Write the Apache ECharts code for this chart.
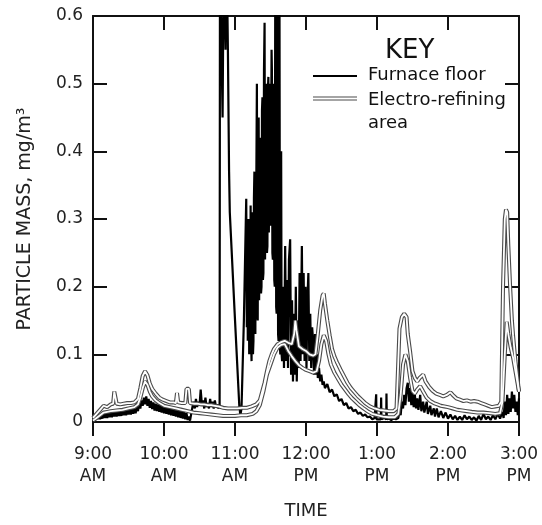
<!DOCTYPE html>
<html><head><meta charset="utf-8">
<script src="https://cdn.jsdelivr.net/npm/echarts@6/dist/echarts.min.js"></script>
<style>html,body{margin:0;padding:0;background:#fff}#c{width:542px;height:525px}</style>
</head><body><div id="c"></div>
<script>
// time in minutes after 9:00 AM, particle mass in mg/m3
const xTickLabels = ['9:00\nAM','10:00\nAM','11:00\nAM','12:00\nPM','1:00\nPM','2:00\nPM','3:00\nPM'];
const yTickLabels = ['0','0.1','0.2','0.3','0.4','0.5','0.6'];
const legendNames = ['Furnace floor', 'Electro-refining\narea'];

const furnaceFloor = [
[0,0.002],[1,0.008],[2,0.003],[3,0.010],[4,0.004],[5,0.011],[6,0.004],[7,0.012],[8,0.005],[9,0.013],
[10,0.006],[11,0.014],[12,0.006],[13,0.015],[14,0.007],[15,0.015],[16,0.007],[17,0.016],[18,0.008],[19,0.016],
[20,0.008],[21,0.017],[22,0.009],[23,0.017],[24,0.009],[25,0.018],[26,0.010],[27,0.018],[28,0.010],[29,0.019],
[30,0.011],[31,0.020],[32,0.011],[33,0.020],[34,0.012],[35,0.021],[36,0.013],[37,0.023],[38,0.016],[39,0.027],
[40,0.020],[41,0.032],[42,0.024],[43,0.036],[44,0.026],[45,0.038],[46,0.024],[47,0.034],[48,0.021],[49,0.031],
[50,0.019],[51,0.029],[52,0.017],[53,0.027],[54,0.016],[55,0.026],[56,0.015],[57,0.025],[58,0.014],[59,0.024],
[60,0.013],[61,0.023],[62,0.012],[63,0.022],[64,0.011],[65,0.021],[66,0.010],[67,0.020],[68,0.009],[69,0.019],
[70,0.008],[71,0.018],[72,0.007],[73,0.017],[74,0.006],[75,0.016],[76,0.005],[77,0.015],[78,0.004],[79,0.013],
[80,0.003],[81,0.008],[82,0.002],[83,0.004],[84,0.022],[85,0.030],[86,0.020],[87,0.034],[88,0.022],[89,0.030],
[90,0.024],[91,0.048],[92,0.026],[93,0.032],[94,0.020],[95,0.036],[96,0.022],[97,0.028],[98,0.020],[99,0.034],
[100,0.022],[101,0.030],[102,0.020],[103,0.032],[104,0.022],[105,0.026],[106,0.020],[107,0.024],
[107.3,0.70],[108.5,0.70],[109.5,0.45],[110.5,0.70],[111.5,0.70],[112,0.55],[112.5,0.70],[113.5,0.62],[114,0.55],
[115,0.37],[115.6,0.31],[119.6,0.165],[123.6,0.025],[124.5,0.010],[125.5,0.020],[127.5,0.15],[129.5,0.33],
[130,0.14],[130.4,0.30],[130.8,0.12],[131.2,0.26],[131.6,0.30],[132,0.10],[132.4,0.28],[132.8,0.11],[133.2,0.32],
[133.6,0.12],[134,0.09],[134.4,0.29],[134.8,0.31],[135.2,0.10],[135.6,0.12],[136,0.33],[136.4,0.37],[136.8,0.14],
[137.2,0.13],[137.6,0.36],[138,0.35],[138.5,0.50],[138.9,0.16],[139.2,0.15],[139.6,0.40],[140,0.45],[140.4,0.18],
[140.8,0.18],[141.2,0.40],[141.6,0.42],[142,0.19],[142.4,0.20],[142.8,0.46],[143.2,0.48],[143.6,0.21],[144,0.22],
[144.5,0.52],[145,0.59],[145.4,0.24],[145.8,0.24],[146.2,0.50],[146.6,0.47],[147,0.25],[147.4,0.26],[147.8,0.49],
[148.2,0.51],[148.6,0.28],[149,0.28],[149.4,0.47],[149.8,0.50],[150.2,0.29],[150.5,0.29],[150.9,0.55],[151.2,0.52],
[151.6,0.25],[152,0.24],[152.4,0.50],[152.8,0.45],[153.2,0.21],[153.6,0.20],[154,0.62],[154.4,0.65],[154.8,0.17],
[155.2,0.16],[155.6,0.64],[156,0.66],[156.4,0.13],[156.8,0.12],[157.2,0.60],[157.6,0.62],[158,0.11],[158.3,0.10],
[158.6,0.38],[159,0.40],[159.4,0.10],[159.8,0.09],
[160.6,0.20],[161.4,0.08],[162.4,0.26],[163.2,0.09],[164,0.21],[164.8,0.08],[165.6,0.24],
[166.6,0.27],[167.4,0.07],[168.2,0.18],[169,0.06],[169.8,0.16],[170.6,0.07],[171.4,0.20],[172.2,0.06],[173,0.15],
[173.8,0.08],[174.6,0.22],[175.4,0.09],[176.5,0.26],[177.3,0.10],[178,0.22],[178.8,0.09],[179.6,0.20],[180.4,0.08],
[181.2,0.18],[182,0.22],[182.8,0.09],[183.6,0.16],[184.4,0.08],[185.2,0.14],[186,0.12],[186.8,0.07],[187.6,0.13],
[188.4,0.07],[189.2,0.10],[190,0.065],[191,0.08],[192,0.06],[193,0.07],[194,0.055],[195,0.06],
[196,0.050],[198,0.056],[200,0.044],[202,0.048],[204,0.038],[206,0.041],[208,0.031],[210,0.034],[212,0.025],[214,0.028],
[216,0.020],[218,0.022],[220,0.016],[222,0.018],[224,0.012],[226,0.014],[228,0.009],[230,0.011],[232,0.007],[234,0.008],
[236,0.004],[238,0.006],[239,0.004],[239.3,0.041],[239.6,0.004],[241,0.006],[243.2,0.004],[243.5,0.036],[243.8,0.004],
[246,0.006],[247.8,0.004],[248,0.042],[248.3,0.004],[250,0.005],[252,0.003],[254,0.005],[256,0.004],[258,0.006],
[259,0.015],[260,0.010],[261,0.030],[262,0.020],[263,0.040],[264,0.025],[265,0.050],[266,0.058],[267,0.030],[268,0.050],
[269,0.025],[270,0.046],[271,0.022],[272,0.040],[273,0.020],[274,0.035],[275,0.018],[276.5,0.040],[277.5,0.016],[279,0.030],
[280,0.014],[282,0.030],[283,0.012],[285,0.024],[286,0.010],[288,0.020],[289,0.008],[290.5,0.020],[292,0.007],[294,0.016],
[296,0.006],[298,0.014],[300,0.005],[302,0.011],[304,0.004],[306,0.009],[308,0.003],[310,0.008],[312,0.003],[314,0.010],
[316,0.004],[318,0.008],[320,0.003],[322,0.007],[324,0.002],[326,0.009],[328,0.003],[330,0.012],[332,0.004],[334,0.008],
[336,0.003],[338,0.010],[340,0.004],[342,0.012],[344,0.005],[346,0.015],[347,0.006],[348,0.030],[349,0.010],[350,0.040],
[351,0.012],[352,0.035],[353,0.015],[354,0.045],[355,0.020],[356,0.040],[357,0.015],[358,0.030],[359,0.010],[360,0.035]
];

const electroUpper = [
[0,0.006],[3,0.012],[6,0.018],[9,0.024],[12,0.022],[15,0.026],[17,0.027],[18,0.045],[19,0.045],[20,0.027],
[23,0.026],[26,0.027],[29,0.028],[32,0.028],[35,0.029],[38,0.034],[40,0.050],[42,0.068],[44,0.075],[46,0.069],
[48,0.057],[50,0.049],[53,0.042],[56,0.036],[59,0.033],[62,0.031],[65,0.029],[68,0.029],[70,0.028],[71,0.043],
[72,0.029],[75,0.028],[78,0.028],[79,0.049],[81,0.049],[82,0.028],[85,0.027],[88,0.027],[91,0.026],[94,0.026],
[97,0.025],[100,0.025],[103,0.024],[106,0.023],[110,0.021],[114,0.020],[118,0.020],[122,0.020],[126,0.021],[130,0.021],
[134,0.023],[138,0.026],[141,0.032],[143,0.045],[145,0.058],[147,0.075],[149,0.090],[151,0.100],[153,0.108],[156,0.115],
[159,0.118],[162,0.120],[165,0.117],[168,0.115],[170,0.130],[171,0.150],[172,0.135],[174,0.112],[177,0.108],[180,0.105],
[183,0.100],[186,0.098],[188,0.100],[190,0.130],[192,0.165],[194,0.187],[195,0.190],[196,0.175],[198,0.150],[200,0.128],
[202,0.108],[204,0.097],[206,0.089],[209,0.078],[212,0.068],[215,0.058],[218,0.050],[221,0.044],[224,0.038],[227,0.033],
[230,0.028],[234,0.023],[238,0.020],[242,0.018],[246,0.017],[250,0.016],[254,0.016],[256.5,0.020],[258,0.090],[259,0.138],
[261,0.155],[263,0.160],[265,0.155],[266,0.130],[268,0.104],[270,0.075],[272,0.065],[274,0.060],[276,0.065],[279,0.070],
[281,0.060],[284,0.052],[287,0.046],[290,0.042],[293,0.040],[296,0.038],[299,0.040],[302,0.044],[304,0.040],[307,0.035],
[310,0.033],[313,0.031],[316,0.032],[319,0.030],[322,0.031],[325,0.030],[328,0.028],[331,0.026],[334,0.024],[337,0.022],
[340,0.023],[343,0.024],[345,0.030],[346.5,0.200],[348,0.300],[349,0.314],[350,0.310],[351,0.260],[352.5,0.200],[354,0.150],
[355,0.128],[357,0.090],[358,0.075],[360,0.045]
];

const electroLower = [
[0,0.002],[3,0.006],[6,0.010],[9,0.014],[12,0.015],[15,0.016],[20,0.017],[25,0.018],[30,0.020],[35,0.022],
[38,0.026],[40,0.036],[42,0.050],[44,0.060],[46,0.055],[48,0.045],[50,0.038],[53,0.032],[56,0.028],[60,0.024],
[65,0.022],[70,0.020],[75,0.018],[80,0.016],[85,0.014],[90,0.013],[95,0.012],[100,0.011],[105,0.010],[110,0.009],
[115,0.009],[120,0.009],[125,0.010],[130,0.010],[135,0.012],[138,0.016],[141,0.025],[144,0.045],[147,0.070],[150,0.085],
[153,0.100],[156,0.110],[159,0.114],[162,0.115],[165,0.105],[168,0.097],[171,0.090],[174,0.084],[177,0.080],[180,0.077],
[183,0.075],[186,0.073],[189,0.075],[191,0.090],[193,0.115],[195,0.128],[197,0.120],[199,0.100],[201,0.085],[204,0.073],
[207,0.064],[210,0.055],[213,0.048],[216,0.041],[219,0.035],[222,0.030],[225,0.025],[228,0.021],[232,0.016],[236,0.012],
[240,0.010],[245,0.008],[250,0.007],[255,0.007],[258,0.012],[260,0.040],[262,0.085],[264,0.100],[266,0.090],[268,0.065],
[270,0.046],[272,0.042],[274,0.048],[276.5,0.053],[279,0.045],[282,0.036],[285,0.031],[288,0.028],[291,0.026],[294,0.024],
[297,0.023],[300,0.022],[304,0.020],[308,0.018],[312,0.017],[316,0.016],[320,0.015],[325,0.014],[330,0.014],[335,0.013],
[340,0.012],[344,0.013],[346,0.030],[348,0.100],[349.6,0.148],[351,0.130],[353,0.110],[355,0.095],[357,0.075],[359,0.055],
[360,0.045]
];

const FONT = 'DejaVu Sans';
const AX = { color: '#111', width: 2 };
const chart = echarts.init(document.getElementById('c'), null, { renderer: 'canvas' });

function hollow(name, data) {
  return [
    { name, type: 'line', data, showSymbol: false, symbol: 'none', z: 3, animation: false,
      lineStyle: { color: '#4a4a4a', width: 4 } },
    { name, type: 'line', data, showSymbol: false, symbol: 'none', z: 4, animation: false,
      lineStyle: { color: '#ffffff', width: 1.8 } }
  ];
}

chart.setOption({
  animation: false,
  backgroundColor: '#fff',
  grid: { left: 93, right: 23, top: 16, bottom: 97 },
  xAxis: [
    { type: 'value', min: 0, max: 360, interval: 60, position: 'bottom',
      name: 'TIME', nameLocation: 'middle', nameGap: 80,
      nameTextStyle: { fontFamily: FONT, fontSize: 18, color: '#222' },
      axisLine: { show: true, onZero: false, lineStyle: AX },
      axisTick: { show: true, inside: false, length: 14, lineStyle: AX },
      axisLabel: { margin: 22, fontFamily: FONT, fontSize: 17, color: '#222', lineHeight: 22,
        formatter: v => xTickLabels[Math.round(v / 60)] },
      splitLine: { show: false } },
    { type: 'value', min: 0, max: 360, interval: 60, position: 'top',
      axisLine: { show: true, onZero: false, lineStyle: AX },
      axisTick: { show: true, inside: true, length: 14, lineStyle: AX },
      axisLabel: { show: false }, splitLine: { show: false } }
  ],
  yAxis: [
    { type: 'value', min: 0, max: 0.6, interval: 0.1, position: 'left',
      name: 'PARTICLE MASS, mg/m³', nameLocation: 'middle', nameGap: 58, nameRotate: 90,
      nameTextStyle: { fontFamily: FONT, fontSize: 19, color: '#222' },
      axisLine: { show: true, onZero: false, lineStyle: AX },
      axisTick: { show: true, inside: true, length: 14, lineStyle: AX },
      axisLabel: { margin: 10, fontFamily: FONT, fontSize: 17, color: '#222',
        formatter: v => yTickLabels[Math.round(v * 10)] },
      splitLine: { show: false } },
    { type: 'value', min: 0, max: 0.6, interval: 0.1, position: 'right',
      axisLine: { show: true, onZero: false, lineStyle: AX },
      axisTick: { show: true, inside: true, length: 14, lineStyle: AX },
      axisLabel: { show: false }, splitLine: { show: false } }
  ],
  series: [
    { name: legendNames[0], type: 'line', data: furnaceFloor, showSymbol: false, symbol: 'none', z: 2,
      animation: false, lineStyle: { color: '#000', width: 2.2 } },
    ...hollow(legendNames[1], electroUpper),
    ...hollow(legendNames[1], electroLower)
  ],
  graphic: [
    { type: 'text', left: 385, top: 38, style: { text: 'KEY', fontFamily: FONT, fontSize: 26, fill: '#111' } },
    { type: 'line', shape: { x1: 313, y1: 76, x2: 357, y2: 76 }, style: { stroke: '#000', lineWidth: 2 } },
    { type: 'line', shape: { x1: 313, y1: 98.5, x2: 357, y2: 98.5 }, style: { stroke: '#4a4a4a', lineWidth: 4 } },
    { type: 'line', shape: { x1: 313, y1: 98.5, x2: 357, y2: 98.5 }, style: { stroke: '#fff', lineWidth: 1.8 } },
    { type: 'text', left: 368, top: 66, style: { text: legendNames[0], fontFamily: FONT, fontSize: 18, fill: '#111' } },
    { type: 'text', left: 368, top: 89, style: { text: legendNames[1], fontFamily: FONT, fontSize: 18, fill: '#111', lineHeight: 23 } }
  ]
});
</script></body></html>
